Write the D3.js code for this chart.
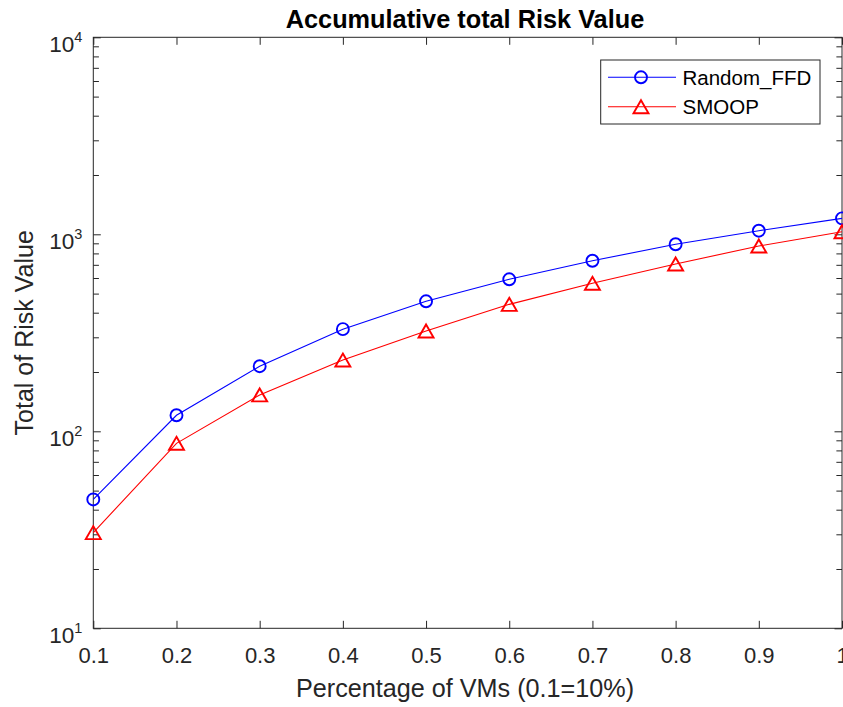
<!DOCTYPE html>
<html>
<head>
<meta charset="utf-8">
<script src="https://cdn.jsdelivr.net/npm/d3@7"></script>
<style>
  html, body { margin: 0; padding: 0; background: #fff; }
  svg { display: block; }
  text { font-family: "Liberation Sans", Arial, Helvetica, sans-serif; }
</style>
</head>
<body>
<svg id="chart" width="843" height="707"></svg>
<script>
// Share of VMs placed (0.1 = 10%)
const percentages = [0.1, 0.2, 0.3, 0.4, 0.5, 0.6, 0.7, 0.8, 0.9, 1.0];
// Accumulated total risk for each placement strategy
const randomFFD = [45.1, 120.6, 214, 330, 457, 591, 734, 890, 1043, 1205];
const smoop     = [30.6, 86.9, 153, 230, 323, 441, 564, 707, 872, 1031];
const seriesNames = ["Random_FFD", "SMOOP"];
const xTickValues = [0.1, 0.2, 0.3, 0.4, 0.5, 0.6, 0.7, 0.8, 0.9, 1.0];
const xTickLabels = ["0.1", "0.2", "0.3", "0.4", "0.5", "0.6", "0.7", "0.8", "0.9", "1"];
const yExponents = [1, 2, 3, 4];

const svg = d3.select("#chart");
const W = 843, H = 707;
const m = { left: 93.3, right: 1, top: 37.3, bottom: 78.7 };
const x0 = m.left, x1 = W - m.right, y0 = m.top, y1 = H - m.bottom;

const axisColor = "#262626";

const x = d3.scaleLinear().domain([0.1, 1]).range([x0, x1]);
const y = d3.scaleLog().domain([10, 10000]).range([y1, y0]);

const majorY = yExponents.map(e => Math.pow(10, e));
const minorY = [];
for (let e = 1; e < 4; e++) for (let k = 2; k <= 9; k++) minorY.push(k * Math.pow(10, e));

const tick = 7.5;

function styleAxis(g) {
  g.select(".domain").remove();
  g.selectAll(".tick line").attr("stroke", axisColor).attr("stroke-width", 1);
}

// bottom axis with labels
const gB = svg.append("g").attr("transform", `translate(0,${y1})`)
  .call(d3.axisBottom(x).tickValues(xTickValues).tickSize(-tick)
    .tickFormat((d, i) => xTickLabels[i]).tickPadding(0));
styleAxis(gB);
gB.selectAll(".tick text")
  .attr("y", 35).attr("dy", null)
  .attr("fill", axisColor).style("font-size", "22px");

// top axis, ticks only
const gT = svg.append("g").attr("transform", `translate(0,${y0})`)
  .call(d3.axisTop(x).tickValues(xTickValues).tickSize(-tick).tickFormat(""));
styleAxis(gT);

// left axis, majors with power-of-ten labels
const gL = svg.append("g").attr("transform", `translate(${x0},0)`)
  .call(d3.axisLeft(y).tickValues(majorY).tickSize(-tick).tickFormat(""));
styleAxis(gL);
const gLm = svg.append("g").attr("transform", `translate(${x0},0)`)
  .call(d3.axisLeft(y).tickValues(minorY).tickSize(-tick * 0.75).tickFormat(""));
styleAxis(gLm);

// right axis, ticks only
const gR = svg.append("g").attr("transform", `translate(${x1},0)`)
  .call(d3.axisRight(y).tickValues(majorY).tickSize(-tick).tickFormat(""));
styleAxis(gR);
const gRm = svg.append("g").attr("transform", `translate(${x1},0)`)
  .call(d3.axisRight(y).tickValues(minorY).tickSize(-tick * 0.75).tickFormat(""));
styleAxis(gRm);

// y tick labels as 10 with superscript exponent
const yLab = svg.append("g").attr("fill", axisColor);
yExponents.forEach(e => {
  const t = yLab.append("text")
    .attr("x", x0 - 11).attr("y", y(Math.pow(10, e)) + 15)
    .attr("text-anchor", "end");
  t.append("tspan").style("font-size", "22.5px").text("10");
  t.append("tspan").attr("dy", -10).style("font-size", "14.5px").text(String(e));
});

// plot box
svg.append("rect")
  .attr("x", x0).attr("y", y0).attr("width", x1 - x0).attr("height", y1 - y0)
  .attr("fill", "none").attr("stroke", axisColor).attr("stroke-width", 1);

// series
const line = d3.line().x(d => x(d[0])).y(d => y(d[1]));
const blueData = percentages.map((p, i) => [p, randomFFD[i]]);
const redData = percentages.map((p, i) => [p, smoop[i]]);

const triPath = "M0,-6.5L7.5,6.5L-7.5,6.5Z";

svg.append("path").datum(blueData).attr("d", line)
  .attr("fill", "none").attr("stroke", "#0000ff").attr("stroke-width", 1.1);
svg.append("path").datum(redData).attr("d", line)
  .attr("fill", "none").attr("stroke", "#ff0000").attr("stroke-width", 1.1);

svg.append("g").selectAll("circle").data(blueData).join("circle")
  .attr("cx", d => x(d[0])).attr("cy", d => y(d[1])).attr("r", 6)
  .attr("fill", "none").attr("stroke", "#0000ff").attr("stroke-width", 1.9);
svg.append("g").selectAll("path").data(redData).join("path")
  .attr("transform", d => `translate(${x(d[0])},${y(d[1])})`)
  .attr("d", triPath)
  .attr("fill", "none").attr("stroke", "#ff0000").attr("stroke-width", 1.9);

// legend
const lg = svg.append("g");
lg.append("rect").attr("x", 600.7).attr("y", 60).attr("width", 219.3).attr("height", 64)
  .attr("fill", "#fff").attr("stroke", axisColor).attr("stroke-width", 1);
const rows = [
  { name: seriesNames[0], color: "#0000ff", y: 77.3, marker: "circle" },
  { name: seriesNames[1], color: "#ff0000", y: 106.7, marker: "tri" }
];
rows.forEach(r => {
  lg.append("line").attr("x1", 608).attr("x2", 676).attr("y1", r.y).attr("y2", r.y)
    .attr("stroke", r.color).attr("stroke-width", 1.1);
  if (r.marker === "circle") {
    lg.append("circle").attr("cx", 641).attr("cy", r.y).attr("r", 6)
      .attr("fill", "none").attr("stroke", r.color).attr("stroke-width", 1.9);
  } else {
    lg.append("path").attr("transform", `translate(641,${r.y})`).attr("d", triPath)
      .attr("fill", "none").attr("stroke", r.color).attr("stroke-width", 1.9);
  }
  lg.append("text").attr("x", 682.5).attr("y", r.y + 7.2)
    .style("font-size", "20.5px").attr("fill", "#000").text(r.name);
});

// title and axis labels
svg.append("text").attr("x", 465).attr("y", 28).attr("text-anchor", "middle")
  .style("font-size", "25.3px").style("font-weight", "bold").attr("fill", "#000")
  .text("Accumulative total Risk Value");
svg.append("text").attr("x", 465).attr("y", 697).attr("text-anchor", "middle")
  .style("font-size", "25.2px").attr("fill", axisColor)
  .text("Percentage of VMs (0.1=10%)");
svg.append("text")
  .attr("transform", `translate(33,${(y0 + y1) / 2}) rotate(-90)`)
  .attr("text-anchor", "middle")
  .style("font-size", "25px").attr("fill", axisColor)
  .text("Total of Risk Value");
</script>
</body>
</html>
